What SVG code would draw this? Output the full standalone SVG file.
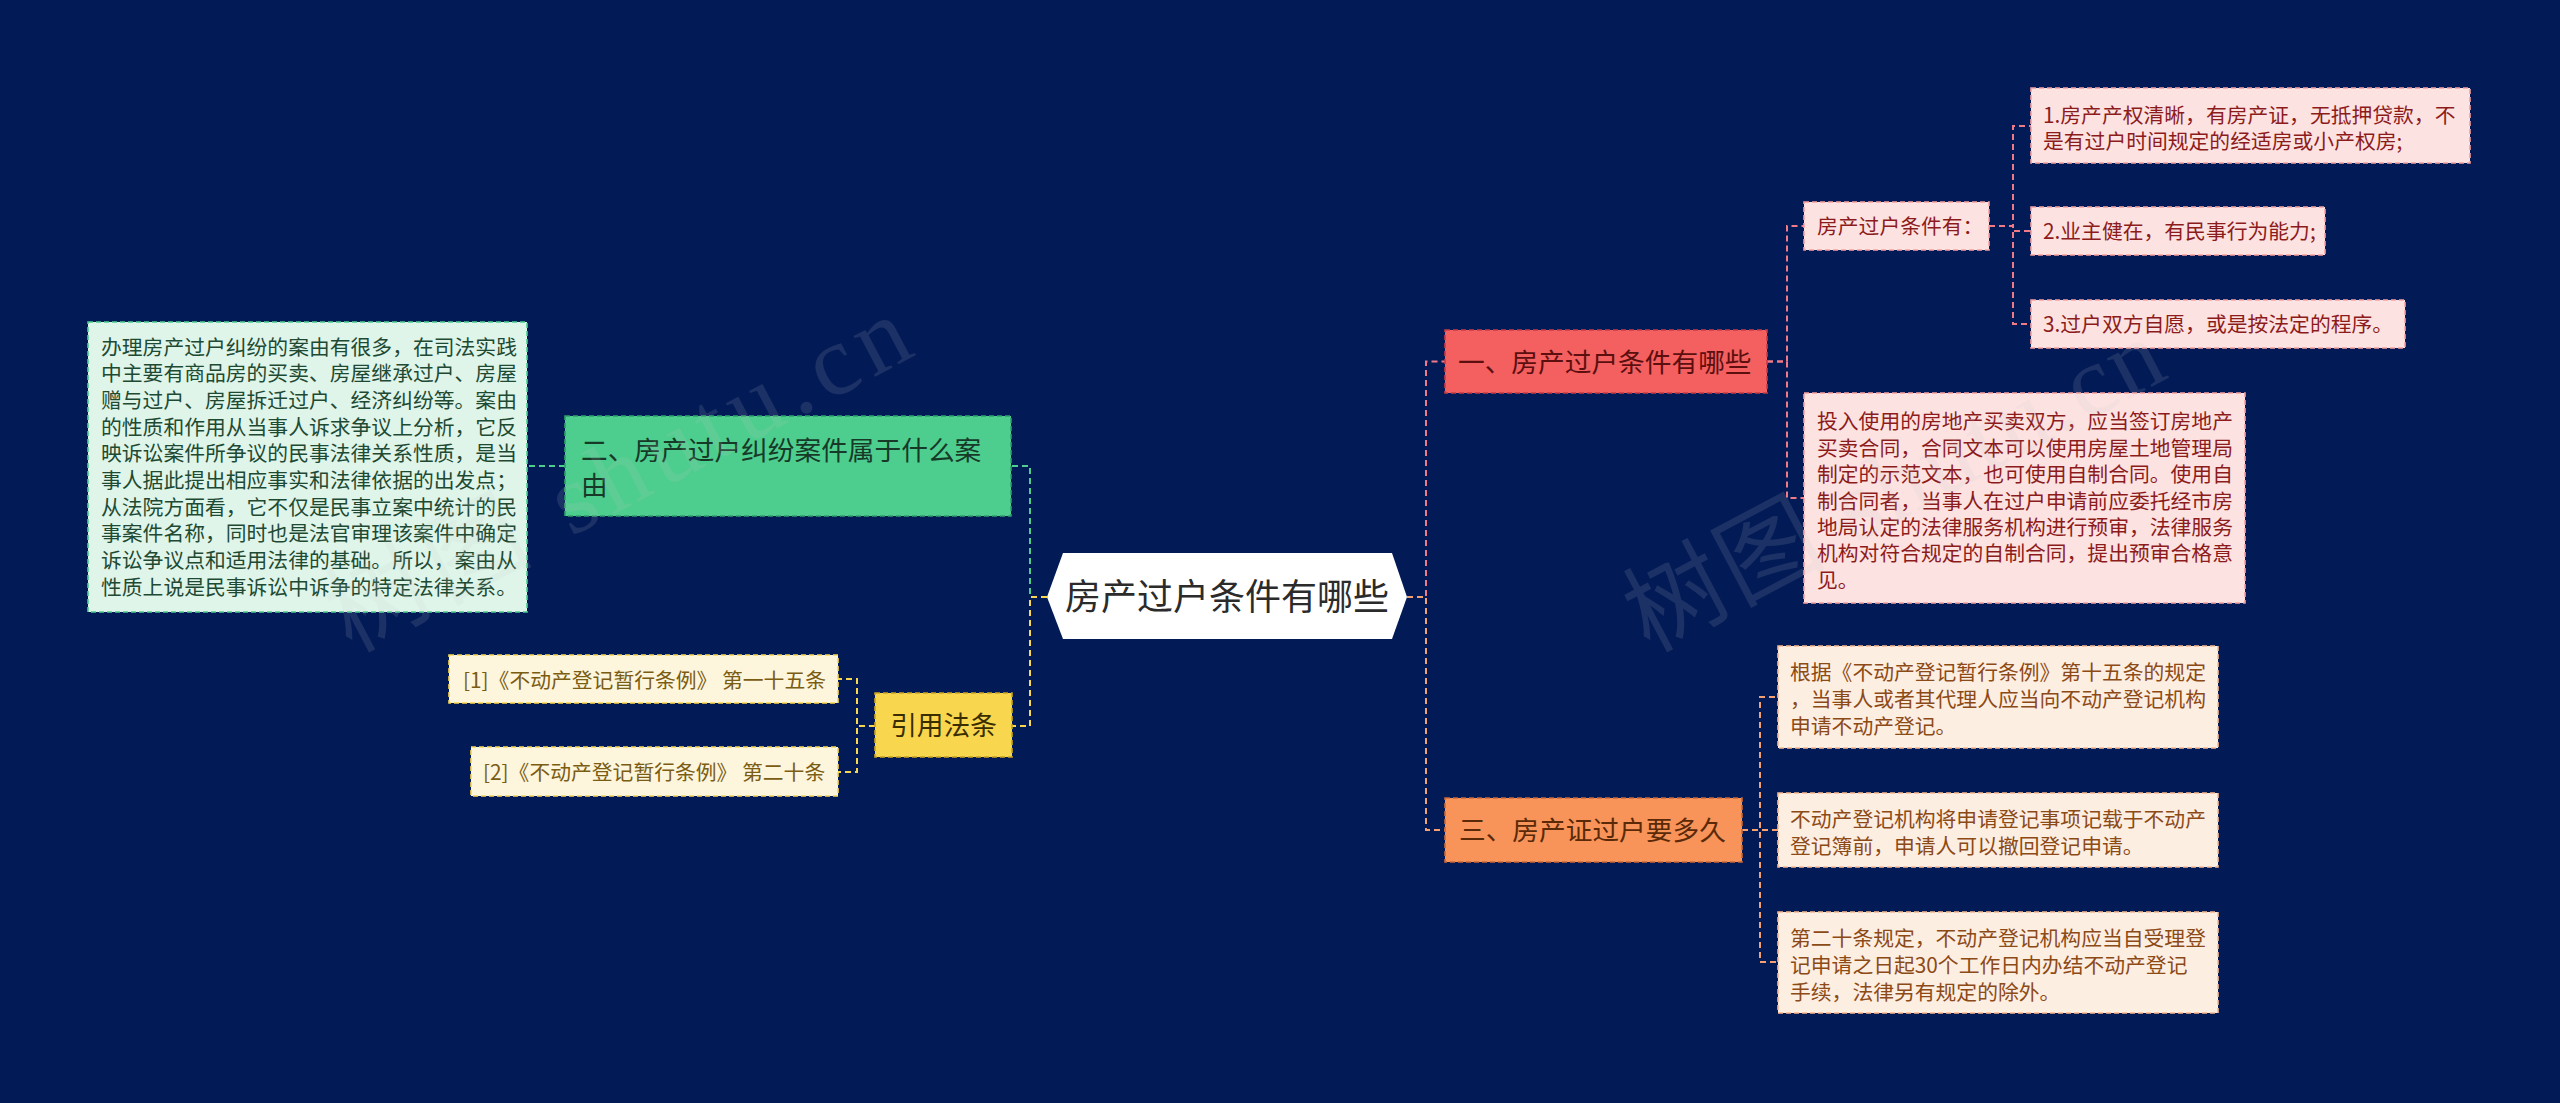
<svg xmlns="http://www.w3.org/2000/svg" width="2560" height="1103" viewBox="0 0 2560 1103">
<style>
text{font-family:'Noto Sans CJK SC','Noto Sans',sans-serif;}
.conn{fill:none;stroke-width:2;stroke-dasharray:6 4;}
.nb{stroke-width:1.6;stroke-dasharray:5 3;}
.s{font-size:20.8px;}
.m{font-size:26.7px;}
.wm{font-family:'Liberation Serif','Noto Sans CJK SC',serif;font-size:100px;fill:#c8c8c8;opacity:0.13;}
</style>
<rect x="0" y="0" width="2560" height="1103" fill="#021b57"/>

<g id="connectors">
  <path class="conn" stroke="#4dce8e" d="M1047,597 H1030 V466 H1011"/>
  <path class="conn" stroke="#f8d64e" d="M1047,597 H1030 V726 H1012"/>
  <path class="conn" stroke="#4dce8e" d="M565,466 H527"/>
  <path class="conn" stroke="#f8d64e" d="M875,726 H857 V679 H838"/>
  <path class="conn" stroke="#f8d64e" d="M875,726 H857 V772 H838"/>
  <path class="conn" stroke="#f07a86" d="M1407,597 H1426 V361.5 H1445"/>
  <path class="conn" stroke="#f4a070" d="M1407,597 H1426 V830 H1445"/>
  <path class="conn" stroke="#f07a86" d="M1767,361.5 H1787 V226 H1804"/>
  <path class="conn" stroke="#f07a86" d="M1767,361.5 H1787 V498 H1804"/>
  <path class="conn" stroke="#f07a86" d="M1989,226 H2013 V126 H2031"/>
  <path class="conn" stroke="#f07a86" d="M1989,226 H2013 V231 H2031"/>
  <path class="conn" stroke="#f07a86" d="M1989,226 H2013 V324 H2031"/>
  <path class="conn" stroke="#f4a070" d="M1742,830 H1760 V697 H1778"/>
  <path class="conn" stroke="#f4a070" d="M1742,830 H1760 V830 H1778"/>
  <path class="conn" stroke="#f4a070" d="M1742,830 H1760 V962 H1778"/>
</g>

<g id="center">
  <polygon points="1047,597 1063,553 1392,553 1407,597 1392,639 1063,639" fill="#ffffff"/>
  <text x="1227" y="610" font-size="36" fill="#2b2b2b" text-anchor="middle">房产过户条件有哪些</text>
</g>

<g id="n2">
  <rect class="nb" x="565" y="416" width="446" height="100" fill="#4dce8e" stroke="#2f9e6a"/>
  <text class="m" fill="#173a28"><tspan x="581" y="460">二、房产过户纠纷案件属于什么案</tspan><tspan x="581" y="495">由</tspan></text>
</g>

<g id="n2a">
  <rect class="nb" x="88" y="322" width="439" height="290" fill="#dff5ea" stroke="#4dce8e"/>
  <text class="s" fill="#1e4a33">
    <tspan x="101" y="354.5">办理房产过户纠纷的案由有很多，在司法实践</tspan>
    <tspan x="101" y="381.2">中主要有商品房的买卖、房屋继承过户、房屋</tspan>
    <tspan x="101" y="407.8">赠与过户、房屋拆迁过户、经济纠纷等。案由</tspan>
    <tspan x="101" y="434.5">的性质和作用从当事人诉求争议上分析，它反</tspan>
    <tspan x="101" y="461.2">映诉讼案件所争议的民事法律关系性质，是当</tspan>
    <tspan x="101" y="487.8">事人据此提出相应事实和法律依据的出发点；</tspan>
    <tspan x="101" y="514.5">从法院方面看，它不仅是民事立案中统计的民</tspan>
    <tspan x="101" y="541.2">事案件名称，同时也是法官审理该案件中确定</tspan>
    <tspan x="101" y="567.8">诉讼争议点和适用法律的基础。所以，案由从</tspan>
    <tspan x="101" y="594.5">性质上说是民事诉讼中诉争的特定法律关系。</tspan>
  </text>
</g>

<g id="cite">
  <rect class="nb" x="875" y="693" width="137" height="64" fill="#f8d64e" stroke="#c9a420"/>
  <text class="m" x="943.5" y="735" fill="#3a2e00" text-anchor="middle">引用法条</text>
</g>

<g id="cite1">
  <rect class="nb" x="449" y="655" width="389" height="48" fill="#fdf5dc" stroke="#f8d64e"/>
  <text class="s" x="463" y="688" fill="#7a5c12">[1]《不动产登记暂行条例》 第一十五条</text>
</g>

<g id="cite2">
  <rect class="nb" x="471" y="747" width="367" height="49" fill="#fdf5dc" stroke="#f8d64e"/>
  <text class="s" x="483" y="780" fill="#7a5c12">[2]《不动产登记暂行条例》 第二十条</text>
</g>

<g id="n1">
  <rect class="nb" x="1445" y="330" width="322" height="63" fill="#f45f5f" stroke="#c83c44"/>
  <text class="m" x="1458" y="372" fill="#5c0f0f">一、房产过户条件有哪些</text>
</g>

<g id="n1a">
  <rect class="nb" x="1804" y="202" width="185" height="48" fill="#fde2e2" stroke="#f4a0a0"/>
  <text class="s" x="1817" y="234" fill="#8c1c1c">房产过户条件有：</text>
</g>

<g id="n1a1">
  <rect class="nb" x="2031" y="88" width="439" height="75" fill="#fde2e2" stroke="#f4a0a0"/>
  <text class="s" fill="#8c1c1c"><tspan x="2043" y="122.5">1.房产产权清晰，有房产证，无抵押贷款，不</tspan><tspan x="2043" y="149">是有过户时间规定的经适房或小产权房;</tspan></text>
</g>

<g id="n1a2">
  <rect class="nb" x="2031" y="207" width="294" height="48" fill="#fde2e2" stroke="#f4a0a0"/>
  <text class="s" x="2043" y="239" fill="#8c1c1c">2.业主健在，有民事行为能力;</text>
</g>

<g id="n1a3">
  <rect class="nb" x="2031" y="300" width="374" height="48" fill="#fde2e2" stroke="#f4a0a0"/>
  <text class="s" x="2043" y="332" fill="#8c1c1c">3.过户双方自愿，或是按法定的程序。</text>
</g>

<g id="n1b">
  <rect class="nb" x="1804" y="393" width="441" height="210" fill="#fde2e2" stroke="#f4a0a0"/>
  <text class="s" fill="#8c1c1c">
    <tspan x="1817" y="429.4">投入使用的房地产买卖双方，应当签订房地产</tspan>
    <tspan x="1817" y="455.8">买卖合同，合同文本可以使用房屋土地管理局</tspan>
    <tspan x="1817" y="482.2">制定的示范文本，也可使用自制合同。使用自</tspan>
    <tspan x="1817" y="508.6">制合同者，当事人在过户申请前应委托经市房</tspan>
    <tspan x="1817" y="535">地局认定的法律服务机构进行预审，法律服务</tspan>
    <tspan x="1817" y="561.4">机构对符合规定的自制合同，提出预审合格意</tspan>
    <tspan x="1817" y="587.8">见。</tspan>
  </text>
</g>

<g id="n3">
  <rect class="nb" x="1445" y="798" width="297" height="64" fill="#f8945a" stroke="#c8683a"/>
  <text class="m" x="1459" y="840" fill="#5a2a08">三、房产证过户要多久</text>
</g>

<g id="n3a">
  <rect class="nb" x="1778" y="646" width="440" height="102" fill="#fdeee2" stroke="#f8b890"/>
  <text class="s" fill="#8c4a16"><tspan x="1790" y="680">根据《不动产登记暂行条例》第十五条的规定</tspan><tspan x="1790" y="707">，当事人或者其代理人应当向不动产登记机构</tspan><tspan x="1790" y="734">申请不动产登记。</tspan></text>
</g>

<g id="n3b">
  <rect class="nb" x="1778" y="793" width="440" height="74" fill="#fdeee2" stroke="#f8b890"/>
  <text class="s" fill="#8c4a16"><tspan x="1790" y="827">不动产登记机构将申请登记事项记载于不动产</tspan><tspan x="1790" y="854">登记簿前，申请人可以撤回登记申请。</tspan></text>
</g>

<g id="n3c">
  <rect class="nb" x="1778" y="912" width="440" height="101" fill="#fdeee2" stroke="#f8b890"/>
  <text class="s" fill="#8c4a16"><tspan x="1790" y="946">第二十条规定，不动产登记机构应当自受理登</tspan><tspan x="1790" y="973">记申请之日起30个工作日内办结不动产登记</tspan><tspan x="1790" y="1000">手续，法律另有规定的除外。</tspan></text>
</g>

<g id="watermark">
  <text class="wm" x="351" y="653" textLength="640" transform="rotate(-27.8 351 653)">树图 shutu.cn</text>
  <text class="wm" x="1649" y="653" textLength="590" transform="rotate(-27.9 1649 653)">树图 shutu.cn</text>
</g>
</svg>
